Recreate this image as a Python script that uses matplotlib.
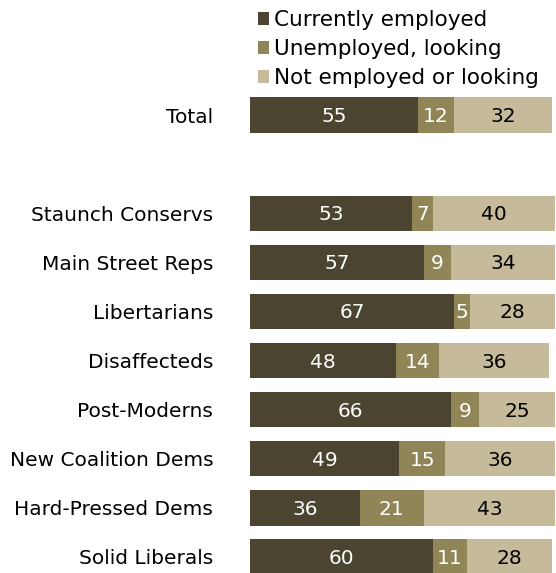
import matplotlib
matplotlib.use("Agg")
import matplotlib.pyplot as plt
from matplotlib.patches import Patch

categories = ["Total", "Staunch Conservs", "Main Street Reps", "Libertarians",
              "Disaffecteds", "Post-Moderns", "New Coalition Dems",
              "Hard-Pressed Dems", "Solid Liberals"]
slots = [0, 2, 3, 4, 5, 6, 7, 8, 9]
employed = [55, 53, 57, 67, 48, 66, 49, 36, 60]
unemployed = [12, 7, 9, 5, 14, 9, 15, 21, 11]
not_looking = [32, 40, 34, 28, 36, 25, 36, 43, 28]
series_names = ["Currently employed", "Unemployed, looking", "Not employed or looking"]
colors = ["#4b4430", "#8f8556", "#c5bb9a"]
text_colors = ["white", "white", "black"]

plt.rcParams['font.family'] = ['DejaVu Sans']
fig = plt.figure(figsize=(5.56, 5.73), dpi=100)
ax = fig.add_axes([250/556, 0, 305/556, 1])

series = [employed, unemployed, not_looking]
left = [0]*len(categories)
for vals, col, tc in zip(series, colors, text_colors):
    ax.barh(slots, vals, left=left, height=0.72, color=col, edgecolor='none')
    for s, v, l in zip(slots, vals, left):
        ax.text(l + v/2, s + 0.03, str(v), ha='center', va='center',
                color=tc, fontsize=14.5)
    left = [a + b for a, b in zip(left, vals)]

ax.set_xlim(0, 100)
ax.set_ylim(9.326, -2.342)
ax.set_yticks(slots)
ax.set_yticklabels(categories, fontsize=14.5)
ax.tick_params(axis='y', length=0, pad=26.5)
ax.set_xticks([])
for sp in ax.spines.values():
    sp.set_visible(False)

handles = [Patch(facecolor=c, edgecolor='none') for c in colors]
fig.legend(handles, series_names, loc='upper left',
           bbox_to_anchor=(243/556, 1 + 5/573), frameon=False, fontsize=15.5,
           handlelength=0.5, handleheight=0.55, handletextpad=0.25,
           labelspacing=0.42, borderpad=0.2)

fig.savefig("out.png", dpi=100)
